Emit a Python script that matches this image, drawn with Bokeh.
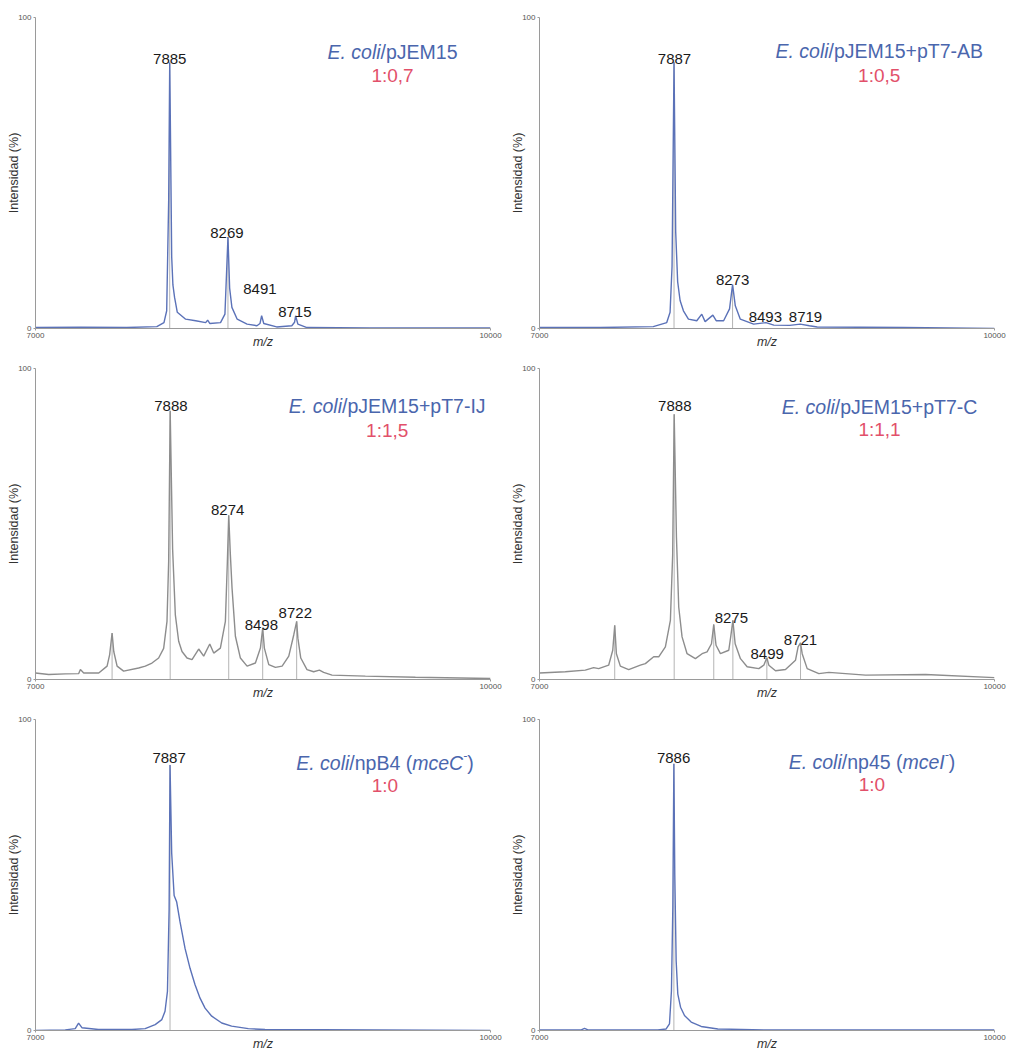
import math
from bokeh.plotting import figure
from bokeh.models import Range1d, FixedTicker, Label, ColumnDataSource
from bokeh.layouts import column, row
from bokeh.core.properties import value
from bokeh.embed import file_html
from bokeh.resources import INLINE

# ---------------- data ----------------
# Panel 1: E. coli/pJEM15
p1_mz = [7000, 7300, 7600, 7800, 7847, 7865, 7878, 7885, 7889, 7898, 7906, 7917, 7935, 7990, 8056,
         8122, 8135, 8150, 8220, 8249, 8269, 8280, 8295, 8330, 8395, 8460, 8480, 8491, 8505, 8590,
         8690, 8708, 8715, 8730, 8790, 9200, 10000]
p1_int = [0.3, 0.4, 0.3, 0.6, 1.9, 5.7, 41, 85.5, 67, 23, 14, 10, 5.2, 3, 2.5,
          1.9, 2.7, 1.6, 1.9, 4.6, 29.4, 13, 6.8, 3, 1.4, 0.9, 1.6, 4.1, 1.6, 0.5,
          0.9, 2, 4.1, 1.4, 0.3, 0.2, 0.2]
p1_stick_mz = [7885, 8269]
p1_stick_int = [85.5, 29.4]
p1_labels = ["7885", "8269", "8491", "8715"]
p1_label_mz = [7885, 8262, 8480, 8710]
p1_label_int = [86.7, 30.8, 12.7, 5.2]

# Panel 2: E. coli/pJEM15+pT7-AB
p2_mz = [7000, 7400, 7750, 7839, 7861, 7874, 7887, 7898, 7911, 7927, 7949, 7982, 8037, 8070, 8092,
         8143, 8165, 8214, 8253, 8273, 8291, 8324, 8412, 8493, 8545, 8650, 8719, 8780, 8831, 9400, 10000]
p2_int = [0.3, 0.3, 0.6, 1.9, 5.2, 20, 85.6, 31, 15, 9, 5.7, 3, 2.5, 4.6, 2.2,
          4.3, 2.5, 2.5, 6.3, 14.1, 7.3, 3, 1.4, 1.9, 1.1, 1.0, 1.4, 0.9, 0.5, 0.3, 0]
p2_stick_mz = [7887, 8273]
p2_stick_int = [85.6, 14.1]
p2_labels = ["7887", "8273", "8493", "8719"]
p2_label_mz = [7890, 8273, 8489, 8754]
p2_label_int = [86.7, 15.7, 3.6, 3.6]

# Panel 3: E. coli/pJEM15+pT7-IJ
p3_mz = [7000, 7087, 7197, 7285, 7296, 7318, 7417, 7472, 7489, 7505, 7516, 7538, 7581, 7680, 7724,
         7768, 7812, 7845, 7867, 7878, 7888, 7904, 7922, 7944, 7966, 7999, 8032, 8076, 8109, 8149,
         8175, 8219, 8252, 8265, 8274, 8285, 8296, 8318, 8351, 8395, 8450, 8483, 8498, 8509, 8538,
         8582, 8626, 8670, 8703, 8722, 8730, 8749, 8790, 8834, 8872, 8900, 8955, 9175, 9505, 10000]
p3_int = [2.1, 1.6, 1.8, 1.9, 3.2, 2.1, 2.1, 4.3, 8, 14.9, 9, 4.3, 2.7, 3.7, 4.3,
          5.3, 6.9, 10, 18.7, 38, 86.4, 42, 20.8, 12.3, 9, 6.9, 6.4, 9.8, 7.5, 11.4,
          8.5, 10.1, 18.7, 37.8, 52.8, 40, 29.3, 13.9, 6.9, 4.3, 5.3, 10.1, 16.5, 10.1, 4.8,
          3.9, 4.3, 7.5, 14.4, 18.7, 13.3, 6.9, 3.2, 2.5, 3, 2.3, 1.4, 1.1, 0.7, 0.3]
p3_stick_mz = [7505, 7888, 8274, 8498, 8722]
p3_stick_int = [14.9, 86.4, 52.8, 16.5, 18.7]
p3_labels = ["7888", "8274", "8498", "8722"]
p3_label_mz = [7893, 8267, 8489, 8713]
p3_label_int = [88, 54.4, 17.4, 21.3]

# Panel 4: E. coli/pJEM15+pT7-C
p4_mz = [7000, 7170, 7302, 7357, 7390, 7456, 7483, 7496, 7507, 7533, 7588, 7665, 7698, 7753, 7786,
         7830, 7863, 7878, 7888, 7903, 7918, 7940, 7973, 8028, 8072, 8105, 8134, 8149, 8164, 8193,
         8248, 8262, 8275, 8290, 8325, 8369, 8446, 8479, 8499, 8512, 8556, 8622, 8688, 8705, 8721,
         8732, 8765, 8842, 8908, 9150, 9545, 10000]
p4_int = [2.1, 2.5, 3, 3.8, 3.5, 4.6, 9.4, 17.4, 8.3, 4.3, 3.2, 4.6, 5.1, 7.3, 7.3,
          10.5, 19, 40, 85.3, 45.7, 23.3, 13.7, 8.3, 6.7, 8.3, 8.9, 11.5, 17.7, 11, 8.3,
          9.4, 14.2, 19, 11.5, 6.7, 4.1, 3.5, 4.6, 7, 4.6, 2.8, 3.2, 6.2, 10.5, 11.8,
          8.3, 3.5, 1.9, 2.3, 1.4, 1.6, 0.6]
p4_stick_mz = [7496, 7888, 8149, 8275, 8499, 8721]
p4_stick_int = [17.4, 85.3, 17.7, 19, 7, 11.8]
p4_labels = ["7888", "8275", "8499", "8721"]
p4_label_mz = [7892, 8265, 8501, 8721]
p4_label_int = [87.9, 19.8, 8.3, 12.6]

# Panel 5: E. coli/npB4 (mceC-)
p5_mz = [7000, 7196, 7262, 7284, 7306, 7415, 7635, 7723, 7789, 7833, 7854, 7870, 7881, 7887, 7898,
         7914, 7931, 7953, 7986, 8019, 8052, 8085, 8118, 8162, 8228, 8293, 8403, 8513, 10000]
p5_int = [0, 0.2, 0.6, 2.4, 0.9, 0.3, 0.3, 0.6, 1.9, 3.5, 6.2, 12.6, 39, 85.4, 57,
          43.4, 41.3, 34.9, 26.4, 20, 14.7, 10.4, 7.2, 4.6, 2.4, 1.4, 0.6, 0.3, 0]
p5_stick_mz = [7887]
p5_stick_int = [85.4]
p5_labels = ["7887"]
p5_label_mz = [7881]
p5_label_int = [87.6]

# Panel 6: E. coli/np45 (mceI-)
p6_mz = [7000, 7275, 7297, 7319, 7780, 7835, 7857, 7870, 7879, 7886, 7892, 7901, 7912, 7930, 7956,
         8000, 8066, 8176, 8484, 10000]
p6_int = [0.2, 0.2, 0.7, 0.2, 0.2, 0.5, 2.1, 12.8, 39.4, 85.8, 50, 22.4, 11.7, 7.5, 4.8,
          2.7, 1.3, 0.5, 0.2, 0.2]
p6_stick_mz = [7886]
p6_stick_int = [85.8]
p6_labels = ["7886"]
p6_label_mz = [7884]
p6_label_int = [87.6]

# titles: segments (text, style)  style: n = normal, i = italic, s = superscript
titles = [
    [("E. coli", "i"), ("/pJEM15", "n")],
    [("E. coli", "i"), ("/pJEM15+pT7-AB", "n")],
    [("E. coli", "i"), ("/pJEM15+pT7-IJ", "n")],
    [("E. coli", "i"), ("/pJEM15+pT7-C", "n")],
    [("E. coli", "i"), ("/npB4 (", "n"), ("mceC", "i"), ("-", "s"), (")", "n")],
    [("E. coli", "i"), ("/np45 (", "n"), ("mceI", "i"), ("-", "s"), (")", "n")],
]
ratios = ["1:0,7", "1:0,5", "1:1,5", "1:1,1", "1:0", "1:0"]
y_title = "Intensidad (%)"
x_title = "m/z"

# ---------------- styling / layout ----------------
FONT = "Liberation Sans"
BLUE_LINE = "#5b72b8"
GRAY_LINE = "#8d8d8d"
STICK = "#b4b4b4"
TITLE_BLUE = "#4a66ad"
RATIO_RED = "#e2506a"

FIG_W, FIG_H = 504, 351
B_LEFT, B_RIGHT, B_TOP, B_BOTTOM = 35, 14, 17, 23
FRAME_W = FIG_W - B_LEFT - B_RIGHT
PX_PER_DA = FRAME_W / 3000.0

AW = {' ': 278, '(': 333, ')': 333, '+': 584, ',': 278, '-': 333, '.': 278, '/': 278, ':': 278,
      'A': 667, 'B': 667, 'C': 722, 'E': 667, 'I': 278, 'J': 500, 'M': 833, 'T': 611,
      'c': 500, 'e': 556, 'i': 222, 'l': 222, 'm': 833, 'n': 556, 'o': 556, 'p': 556}
for d in "0123456789":
    AW[d] = 556


def text_w(s, size):
    return sum(AW.get(ch, 556) for ch in s) / 1000.0 * size


TITLE_SIZE = 19.5
SUP_SIZE = 12


def make_panel(mz, inten, color, st_mz, st_int, labels, lab_mz, lab_int, title, ratio,
               title_cx, title_y, ratio_y):
    p = figure(width=FIG_W, height=FIG_H, output_backend="svg", toolbar_location=None,
               x_range=Range1d(7000, 10000), y_range=Range1d(0, 100),
               min_border_left=B_LEFT, min_border_right=B_RIGHT,
               min_border_top=B_TOP, min_border_bottom=B_BOTTOM)
    p.outline_line_color = None
    p.grid.visible = False
    p.background_fill_color = "white"
    p.border_fill_color = "white"

    p.xaxis.ticker = FixedTicker(ticks=[7000, 10000])
    p.yaxis.ticker = FixedTicker(ticks=[0, 100])
    for ax in (p.xaxis[0], p.yaxis[0]):
        ax.axis_line_color = "#9a9a9a"
        ax.axis_line_width = 1
        ax.major_tick_line_color = "#9a9a9a"
        ax.major_tick_out = 2
        ax.major_tick_in = 0
        ax.minor_tick_line_color = None
        ax.major_label_text_font = FONT
        ax.major_label_text_font_size = "8px"
        ax.major_label_text_color = "#555555"
        ax.major_label_standoff = 2
        ax.axis_label_text_font = FONT
        ax.axis_label_text_color = "#333333"
        ax.axis_label_text_font_size = "12.5px"
    p.yaxis.axis_label = y_title
    p.yaxis.axis_label_text_font_style = "normal"
    p.yaxis.axis_label_standoff = -6
    p.xaxis.axis_label = x_title
    p.xaxis.axis_label_text_font_style = "italic"
    p.xaxis.axis_label_standoff = -6

    # stick (centroid) lines
    p.segment(x0=st_mz, y0=[0] * len(st_mz), x1=st_mz, y1=st_int, line_color=STICK, line_width=1)
    # spectrum
    p.line(mz, inten, line_color=color, line_width=1.4)

    # peak labels
    src = ColumnDataSource(dict(x=lab_mz, y=lab_int, t=labels))
    p.text(x="x", y="y", text="t", source=src, text_font=value(FONT), text_font_size="15px",
           text_align="center", text_baseline="alphabetic", text_color="#1a1a1a")

    # title made of styled segments
    total = sum(text_w(s, SUP_SIZE if st == "s" else TITLE_SIZE) for s, st in title)
    x_px = -total / 2.0
    for s, st in title:
        size = SUP_SIZE if st == "s" else TITLE_SIZE
        p.add_layout(Label(x=title_cx + x_px / PX_PER_DA, y=title_y,
                           y_offset=8 if st == "s" else 0,
                           text=s, text_align="left", text_baseline="alphabetic",
                           text_font=FONT, text_font_size=f"{size}px",
                           text_font_style="italic" if st in ("i", "s") else "normal",
                           text_color=TITLE_BLUE))
        x_px += text_w(s, size)
    p.add_layout(Label(x=title_cx, y=ratio_y, text=ratio, text_align="center",
                       text_baseline="alphabetic", text_font=FONT,
                       text_font_size="19px", text_color=RATIO_RED))
    return p


p1 = make_panel(p1_mz, p1_int, BLUE_LINE, p1_stick_mz, p1_stick_int, p1_labels, p1_label_mz,
                p1_label_int, titles[0], ratios[0], 9354, 88.8, 81.2)
p2 = make_panel(p2_mz, p2_int, BLUE_LINE, p2_stick_mz, p2_stick_int, p2_labels, p2_label_mz,
                p2_label_int, titles[1], ratios[1], 9240, 89.3, 81.5)
p3 = make_panel(p3_mz, p3_int, GRAY_LINE, p3_stick_mz, p3_stick_int, p3_labels, p3_label_mz,
                p3_label_int, titles[2], ratios[2], 9319, 87.9, 80.2)
p4 = make_panel(p4_mz, p4_int, GRAY_LINE, p4_stick_mz, p4_stick_int, p4_labels, p4_label_mz,
                p4_label_int, titles[3], ratios[3], 9242, 87.7, 80.4)
p5 = make_panel(p5_mz, p5_int, BLUE_LINE, p5_stick_mz, p5_stick_int, p5_labels, p5_label_mz,
                p5_label_int, titles[4], ratios[4], 9304, 86.0, 78.7)
p6 = make_panel(p6_mz, p6_int, BLUE_LINE, p6_stick_mz, p6_stick_int, p6_labels, p6_label_mz,
                p6_label_int, titles[5], ratios[5], 9192, 86.3, 79.2)

layout = column(row(p1, p2), row(p3, p4), row(p5, p6))
open("out.html", "w").write(file_html(layout, INLINE))
